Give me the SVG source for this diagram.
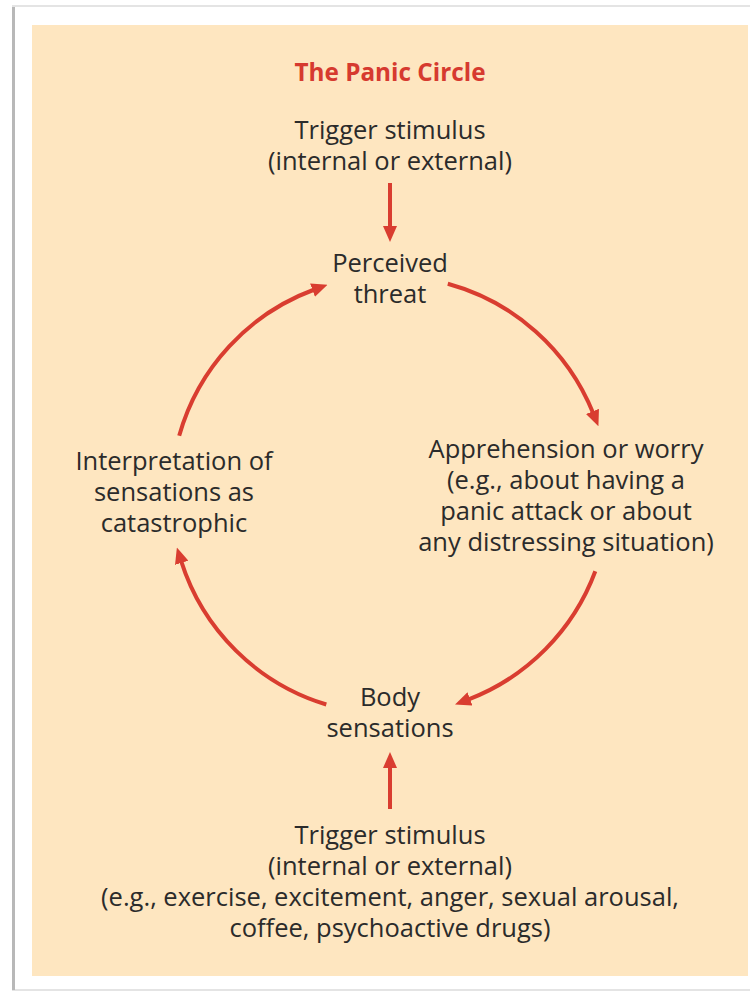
<svg xmlns="http://www.w3.org/2000/svg" width="750" height="993" viewBox="0 0 750 993">
<style>
.t{font-family:"Open Sans","Noto Sans","DejaVu Sans",sans-serif;font-size:25.5px;fill:#2b2b2b;text-anchor:middle}
.title{font-family:"Open Sans","Noto Sans","DejaVu Sans",sans-serif;font-size:24.3px;font-weight:bold;fill:#d63a2f;text-anchor:middle}
.c{fill:none;stroke:#d93d30;stroke-width:4;marker-end:url(#ah)}
</style>
<defs>
<marker id="ah" markerUnits="userSpaceOnUse" viewBox="0 0 16 14" markerWidth="16" markerHeight="14" refX="2" refY="7" orient="auto">
<path d="M0,0 L16,7 L0,14 z" fill="#d93d30"/>
</marker>
</defs>
<rect x="0" y="0" width="750" height="993" fill="#ffffff"/>
<rect x="13" y="6" width="745" height="984" fill="#ffffff" stroke="#e4e4e4" stroke-width="2"/>
<line x1="13.5" y1="7" x2="13.5" y2="990" stroke="#b8b8b8" stroke-width="3"/>
<rect x="32" y="25" width="716" height="951" fill="#fee6c0"/>
<text class="title" x="390" y="81">The Panic Circle</text>
<g id="trigger-top"><text class="t" x="390" y="139">Trigger stimulus</text><text class="t" x="390" y="170">(internal or external)</text></g>
<g id="perceived-threat"><text class="t" x="390" y="272">Perceived</text><text class="t" x="390" y="303">threat</text></g>
<g id="apprehension"><text class="t" x="566" y="458">Apprehension or worry</text><text class="t" x="566" y="489">(e.g., about having a</text><text class="t" x="566" y="520">panic attack or about</text><text class="t" x="566" y="551">any distressing situation)</text></g>
<g id="interpretation"><text class="t" x="174" y="470">Interpretation of</text><text class="t" x="174" y="501">sensations as</text><text class="t" x="174" y="532">catastrophic</text></g>
<g id="body-sensations"><text class="t" x="390" y="706">Body</text><text class="t" x="390" y="737">sensations</text></g>
<g id="trigger-bottom"><text class="t" x="390" y="844">Trigger stimulus</text><text class="t" x="390" y="875">(internal or external)</text><text class="t" x="390" y="906">(e.g., exercise, excitement, anger, sexual arousal,</text><text class="t" x="390" y="937">coffee, psychoactive drugs)</text></g>
<g id="connectors">
<path class="c" d="M390,183 L390,228"/>
<path class="c" d="M447.8,283.7 A219,219 0 0 1 593.2,413.3"/>
<path class="c" d="M595.3,571.3 A219,219 0 0 1 468.1,699.6"/>
<path class="c" d="M326.3,704.5 A219,219 0 0 1 181.1,560.9"/>
<path class="c" d="M179.2,435.7 A219,219 0 0 1 314.4,289.5"/>
<path class="c" d="M390,809 L390,766"/>
</g>
</svg>
